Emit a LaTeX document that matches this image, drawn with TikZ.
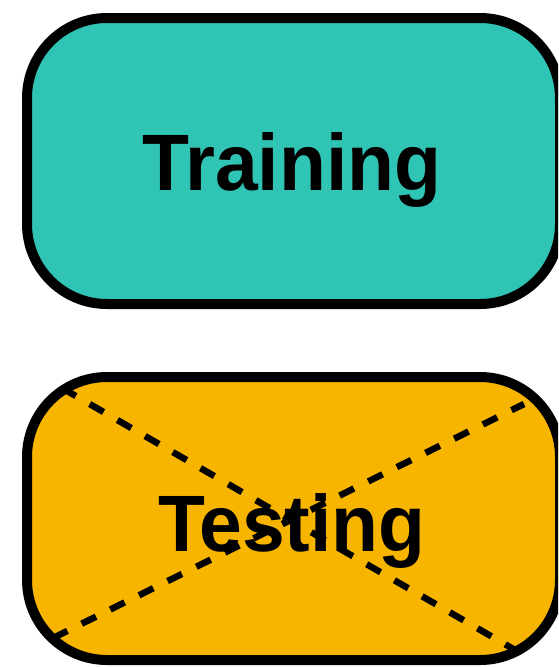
\documentclass[tikz,border=0pt]{standalone}
\usepackage{fontspec}
\setmainfont{Liberation Sans}
\newfontfamily\labelfont[FakeStretch=0.96]{Liberation Sans}
\definecolor{trainteal}{RGB}{48,196,181}
\definecolor{testamber}{RGB}{247,181,0}
\begin{document}
\begin{tikzpicture}[x=1pt,y=-1pt,
  phasebox/.style={draw=black,line width=10pt,rounded corners=80pt},
  phaselabel/.style={anchor=base,inner sep=0pt,font=\labelfont\bfseries\fontsize{80}{90}\selectfont},
  crossline/.style={line width=6.5pt,dash pattern=on 16pt off 16pt}]
  \useasboundingbox (0,0) rectangle (558,667);
  \clip (0,0) rectangle (558,667);
  % training phase
  \path[phasebox,fill=trainteal] (27,18) rectangle (560,304);
  \node[phaselabel] (train) at (292,190.7) {Training};
  % testing phase, crossed out
  \path[phasebox,fill=testamber] (27,377) rectangle (560,660);
  \node[phaselabel] (test) at (292,551.7) {Testing};
  \coordinate (xa) at (62,388);
  \coordinate (xb) at (515,650);
  \coordinate (xc) at (53,638);
  \coordinate (xd) at (524,404);
  \draw[crossline] (xa) -- (xb);
  \draw[crossline] (xc) -- (xd);
\end{tikzpicture}
\end{document}
